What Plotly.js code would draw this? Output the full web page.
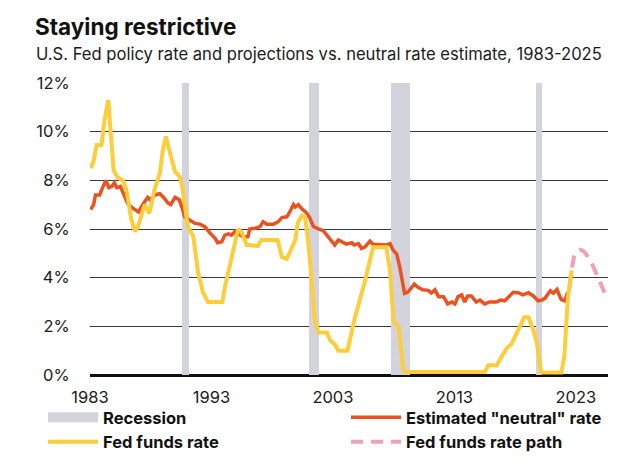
<!DOCTYPE html>
<html>
<head>
<meta charset="utf-8">
<script src="https://cdn.plot.ly/plotly-3.0.1.min.js"></script>
<style>html,body{margin:0;padding:0;background:#fff;}#chart{width:640px;height:466px;}</style>
</head>
<body>
<div id="chart"></div>
<script>
// Recession periods (decimal years)
const recessionStart = [1990.6, 2001.05, 2007.8, 2019.75];
const recessionEnd   = [1991.15, 2001.85, 2009.35, 2020.25];
const recessionTop = 12;

// Fed funds rate (%)
const fedYears = [1983.05,1983.3,1983.55,1983.95,1984.2,1984.5,1984.7,1984.95,1985.3,1985.7,1986.0,1986.4,1986.7,1986.95,1987.5,1987.9,1988.3,1988.75,1989.0,1989.25,1989.6,1990.0,1990.4,1990.65,1991.05,1991.5,1991.9,1992.3,1992.7,1993.9,1994.1,1994.5,1994.8,1995.2,1995.5,1995.9,1996.8,1997.1,1998.45,1998.8,1999.2,1999.5,1999.9,2000.1,2000.45,2000.7,2000.95,2001.25,2001.5,2001.8,2002.5,2002.75,2003.2,2003.45,2004.2,2004.8,2005.6,2006.3,2007.4,2007.7,2008.0,2008.4,2008.8,2009.0,2015.5,2015.8,2016.5,2016.8,2017.3,2017.7,2018.25,2018.75,2019.1,2019.5,2019.8,2020.15,2021.8,2022.05,2022.35,2022.65];
const fedRate  = [8.5,8.8,9.45,9.45,10.5,11.3,10.0,8.4,8.1,8.0,7.6,6.4,5.9,6.1,7.0,6.65,7.6,8.3,9.25,9.8,9.1,8.35,8.15,7.6,6.1,5.7,4.2,3.4,3.0,3.0,3.6,4.45,5.25,6.0,5.85,5.35,5.3,5.55,5.55,4.85,4.77,5.07,5.55,6.25,6.55,6.5,5.55,3.9,2.3,1.75,1.75,1.44,1.23,1.0,1.0,2.34,3.78,5.25,5.25,4.3,2.2,2.0,0.2,0.12,0.12,0.4,0.4,0.68,1.1,1.27,1.85,2.37,2.37,1.85,1.3,0.1,0.1,0.75,3.2,4.3];

// Estimated "neutral" rate (%)
const neutralYears = [1983.05,1983.3,1983.45,1983.8,1983.95,1984.3,1984.55,1984.8,1985.0,1985.2,1985.5,1985.8,1986.1,1986.4,1987.0,1987.4,1987.75,1987.95,1988.35,1988.75,1989.0,1989.45,1989.65,1990.0,1990.35,1990.6,1990.8,1991.2,1991.65,1992.05,1992.45,1992.9,1993.3,1993.5,1993.85,1994.1,1994.4,1994.65,1994.95,1995.2,1995.6,1996.0,1996.15,1996.6,1997.0,1997.25,1997.55,1998.1,1998.5,1998.8,1999.2,1999.45,1999.75,1999.9,2000.15,2000.4,2000.85,2001.1,2001.4,2001.8,2002.2,2002.5,2002.9,2003.15,2003.45,2003.75,2004.1,2004.55,2004.75,2005.1,2005.35,2005.65,2006.05,2006.3,2006.7,2007.15,2007.4,2007.7,2007.95,2008.25,2008.5,2008.8,2008.9,2009.2,2009.4,2009.7,2010.0,2010.4,2010.85,2011.1,2011.4,2011.7,2012.1,2012.45,2012.8,2013.05,2013.3,2013.6,2013.85,2014.1,2014.4,2014.8,2015.1,2015.5,2015.9,2016.45,2016.8,2017.15,2017.55,2017.85,2018.25,2018.65,2019.1,2019.5,2019.9,2020.2,2020.45,2020.9,2021.15,2021.45,2021.6,2021.8,2022.1,2022.3,2022.5];
const neutralRate  = [6.8,7.0,7.4,7.4,7.6,8.0,7.7,7.75,7.9,7.7,7.75,7.4,7.05,6.9,6.7,7.05,7.3,7.2,7.4,7.45,7.33,7.05,7.0,7.3,7.2,6.85,6.5,6.37,6.23,6.2,6.1,5.82,5.62,5.44,5.48,5.75,5.8,5.75,5.9,5.8,5.68,5.68,6.0,6.03,6.1,6.3,6.2,6.2,6.3,6.47,6.5,6.7,7.0,6.9,7.0,6.85,6.65,6.45,6.1,6.0,5.93,5.75,5.48,5.34,5.55,5.48,5.38,5.44,5.34,5.4,5.2,5.27,5.5,5.37,5.37,5.37,5.34,5.4,5.14,4.97,4.45,3.63,3.36,3.42,3.56,3.74,3.6,3.5,3.48,3.37,3.5,3.22,3.22,2.92,3.0,2.92,3.22,3.29,3.0,3.25,3.25,3.0,3.08,2.92,3.0,3.0,3.08,3.05,3.25,3.4,3.38,3.29,3.38,3.25,3.05,3.08,3.15,3.46,3.36,3.52,3.33,3.1,3.05,3.36,3.42];

// Fed funds rate path (projection, %)
const pathYears = [2022.5,2022.75,2023.0,2023.3,2023.6,2024.15,2024.8,2025.5];
const pathRate  = [3.6,4.6,5.05,5.15,5.1,4.73,4.04,3.22];

const tickYears = [1983, 1993, 2003, 2013, 2023];
const yTicks = [0, 2, 4, 6, 8, 10, 12];
const yTickText = yTicks.map(v => v + '%');

const FONT = 'Inter, Roboto, sans-serif';
const GRAY = '#d3d3dd', ORANGE = '#ec5220', YELLOW = '#fecd3a', PINK = '#f2a1b5';

const recMid = recessionStart.map((s, i) => (s + recessionEnd[i]) / 2);
const recWidth = recessionStart.map((s, i) => recessionEnd[i] - s);

const traces = [
  {type: 'bar', x: recMid, y: recMid.map(() => recessionTop), width: recWidth, base: 0,
   marker: {color: GRAY, line: {width: 0}}, showlegend: false, hoverinfo: 'skip', legendgroup: 'rec'},
  {type: 'scatter', mode: 'lines', x: [null], y: [null], name: 'Recession', legendgroup: 'rec',
   line: {color: GRAY, width: 10}, legendrank: 1},
  {type: 'scatter', mode: 'lines', x: neutralYears, y: neutralRate, name: 'Estimated "neutral" rate',
   line: {color: ORANGE, width: 3.5}, legendrank: 2},
  {type: 'scatter', mode: 'lines', x: pathYears, y: pathRate, name: 'Fed funds rate path',
   line: {color: PINK, width: 4, dash: '12px,8px', shape: 'spline'}, legendrank: 4},
  {type: 'scatter', mode: 'lines', x: fedYears, y: fedRate, name: 'Fed funds rate',
   line: {color: YELLOW, width: 4}, legendrank: 3}
];

const layout = {
  width: 640, height: 466,
  margin: {l: 90, r: 32, t: 83, b: 91, pad: 0, autoexpand: false},
  paper_bgcolor: '#fff', plot_bgcolor: '#fff',
  font: {family: FONT, color: '#1a1a1a'},
  title: {text: 'Staying restrictive', font: {family: FONT, size: 22.5, weight: 700, color: '#111'},
          x: 35/640, xanchor: 'left', xref: 'container', y: 1 - 27/466, yanchor: 'middle', yref: 'container'},
  annotations: [{
    text: 'U.S. Fed policy rate and projections vs. neutral rate estimate, 1983-2025',
    xref: 'paper', yref: 'paper', x: (34 - 90) / 518, y: (375 - 54) / 292,
    xanchor: 'left', yanchor: 'middle', showarrow: false,
    font: {family: FONT, size: 16.6, color: '#1a1a1a'}
  }],
  bargap: 0,
  xaxis: {range: [1983, 2025.65], tickvals: tickYears, ticktext: tickYears.map(String),
          showgrid: false, zeroline: false, showline: false, ticks: 'outside', ticklen: 7,
          tickcolor: 'rgba(0,0,0,0)', tickfont: {family: FONT, size: 16.5, color: '#1a1a1a'}},
  yaxis: {range: [0, 12], tickvals: yTicks, ticktext: yTickText, showgrid: true,
          gridcolor: '#3a3a3a', gridwidth: 1, zeroline: true, zerolinecolor: '#111', zerolinewidth: 3,
          showline: false, ticks: 'outside', ticklen: 16, tickcolor: 'rgba(0,0,0,0)',
          tickfont: {family: FONT, size: 16.5, color: '#1a1a1a'}},
  legend: {orientation: 'h', xref: 'paper', yref: 'paper', x: (43 - 90) / 518, y: (375 - 400) / 292,
           xanchor: 'left', yanchor: 'top', font: {family: FONT, size: 16.5, weight: 700, color: '#111'},
           itemwidth: 50, entrywidth: 238, traceorder: 'normal', bgcolor: 'rgba(0,0,0,0)'},
  showlegend: true
};

Plotly.newPlot('chart', traces, layout, {displayModeBar: false, staticPlot: true});
</script>
</body>
</html>
